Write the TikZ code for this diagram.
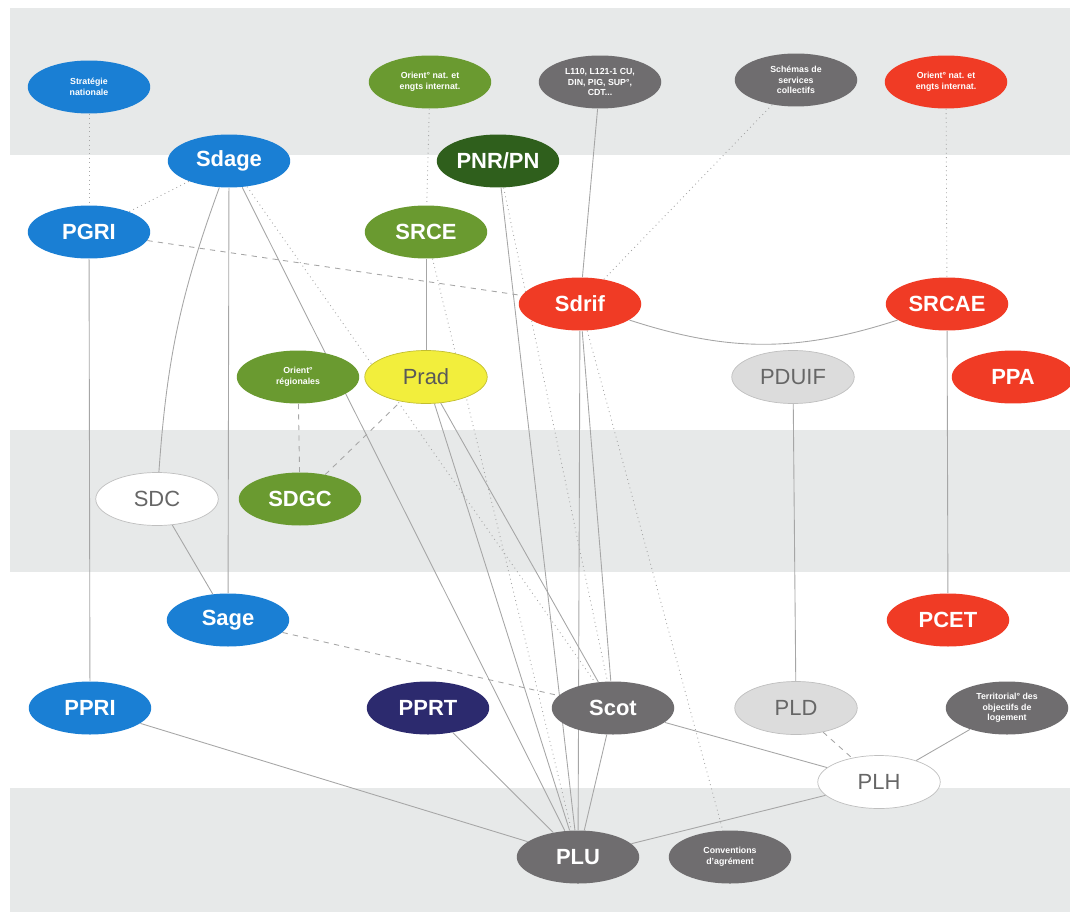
\documentclass[tikz,border=0pt]{standalone}
\usepackage{fontspec}
\setmainfont{Liberation Sans}
\usetikzlibrary{shapes.geometric,backgrounds}

\definecolor{eau}{HTML}{1A7FD4}
\definecolor{foret}{HTML}{2F5F1C}
\definecolor{herbe}{HTML}{6A9A30}
\definecolor{air}{HTML}{F03B25}
\definecolor{etat}{HTML}{6F6D6F}
\definecolor{clair}{HTML}{DCDCDC}
\definecolor{agri}{HTML}{F2EE3C}
\definecolor{risque}{HTML}{2C2A6E}
\definecolor{bande}{HTML}{E7E9E9}

\tikzset{
  plan/.style={ellipse,minimum width=2.45cm,minimum height=1.06cm,inner sep=1pt,
    text=white,font=\bfseries\fontsize{12.5}{14}\selectfont},
  petit/.style={plan,align=center,font=\bfseries\fontsize{5}{6}\selectfont},
  vide/.style={plan,draw=black!25,text=black!60,font=\fontsize{12.5}{14}\selectfont},
  link/.style={draw=black!35,line width=0.5pt},
}

\begin{document}
\begin{tikzpicture}[x=0.02cm,y=-0.02cm]
	\useasboundingbox (0,0) rectangle (1070,912);
	% national level
	\node[petit,fill=eau]   (strat)   at (89,87)  {Stratégie\\nationale};
	\node[petit,fill=herbe] (orientG) at (430,82) {Orient° nat. et\\engts internat.};
	\node[petit,fill=etat]  (l110)    at (600,82) {L110, L121-1 CU,\\DIN, PIG, SUP°,\\CDT...};
	\node[petit,fill=etat]  (schemas) at (796,80) {Schémas de\\services\\collectifs};
	\node[petit,fill=air]   (orientR) at (946,82) {Orient° nat. et\\engts internat.};
	% regional level
	\node[plan,fill=eau]    (sdage) at (229,161) {Sdage};
	\node[plan,fill=foret]  (pnr)   at (498,161) {PNR/PN};
	\node[plan,fill=eau]    (pgri)  at (89,232)  {PGRI};
	\node[plan,fill=herbe]  (srce)  at (426,232) {SRCE};
	\node[plan,fill=air]    (sdrif) at (580,304) {Sdrif};
	\node[plan,fill=air]    (srcae) at (947,304) {SRCAE};
	\node[petit,fill=herbe] (oreg)  at (298,377) {Orient°\\régionales};
	\node[vide,fill=agri,draw=agri!80!black,text=black!65] (prad) at (426,377) {Prad};
	\node[vide,fill=clair]  (pduif) at (793,377) {PDUIF};
	\node[plan,fill=air]    (ppa)   at (1013,377) {PPA};
	% departmental level
	\node[vide,fill=white]  (sdc)  at (157,499) {SDC};
	\node[plan,fill=herbe]  (sdgc) at (300,499) {SDGC};
	% intercommunal level
	\node[plan,fill=eau]    (sage) at (228,620) {Sage};
	\node[plan,fill=air]    (pcet) at (948,620) {PCET};
	\node[plan,fill=eau]    (ppri) at (90,708)  {PPRI};
	\node[plan,fill=risque] (pprt) at (428,708) {PPRT};
	\node[plan,fill=etat]   (scot) at (613,708) {Scot};
	\node[vide,fill=clair]  (pld)  at (796,708) {PLD};
	\node[petit,fill=etat]  (terr) at (1007,708) {Territorial° des\\objectifs de\\logement};
	\node[vide,fill=white]  (plh)  at (879,782) {PLH};
	% communal level
	\node[plan,fill=etat]   (plu)  at (578,857) {PLU};
	\node[petit,fill=etat]  (conv) at (730,857) {Conventions\\d'agrément};

	\begin{scope}[on background layer]
	\fill[bande] (10,8) rectangle (1070,155);
	\fill[bande] (10,430) rectangle (1070,572);
	\fill[bande] (10,788) rectangle (1070,912);
	\path[link]
	(strat) edge [dotted] (pgri)
	(pgri) edge (ppri)
	       edge [dashed] (sdrif)
	(sdage) edge [dotted] (pgri)
	        edge (sage)
	        edge [bend right=8] (sdc)
	        edge (plu)
	        edge [dotted] (scot)
	(sdc) edge (sage)
	(orientG) edge [dotted] (srce)
	(srce) edge (prad)
	       edge [dotted] (plu)
	(pnr) edge (plu)
	      edge [dotted] (scot)
	(l110) edge (sdrif)
	(schemas) edge [dotted] (sdrif)
	(orientR) edge [dotted] (srcae)
	(srcae) edge (pcet)
	        edge [bend left=18] (sdrif)
	(sdrif) edge (plu)
	        edge (scot)
	        edge [dotted] (conv)
	(oreg) edge [dashed] (sdgc)
	(sdgc) edge [dashed] (prad)
	(prad) edge (plu)
	       edge (scot)
	(pduif) edge (pld)
	(sage) edge [dashed] (scot)
	(ppri) edge (plu)
	(pprt) edge (plu)
	(scot) edge (plu)
	       edge (plh)
	(pld) edge [dashed] (plh)
	(terr) edge (plh)
	(plh) edge (plu);
	\end{scope}
\end{tikzpicture}
\end{document}
